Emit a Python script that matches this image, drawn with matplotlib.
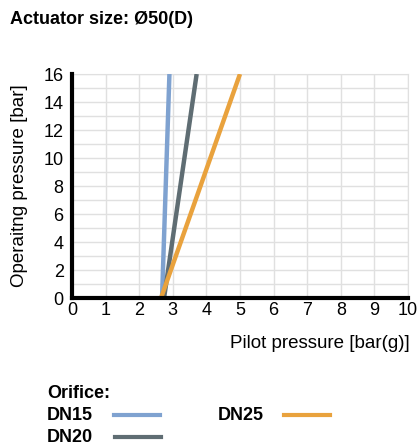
import matplotlib
matplotlib.use("Agg")
import matplotlib.pyplot as plt
from matplotlib.lines import Line2D

plt.rcParams["font.family"] = ["Liberation Sans", "DejaVu Sans"]

# data
series_names = ["DN15", "DN20", "DN25"]
pilot_dn15 = [2.68, 2.9]
pilot_dn20 = [2.74, 3.71]
pilot_dn25 = [2.65, 5.0]
operating = [0, 16]
colors = ["#7fa2d0", "#5f6d73", "#e9a23d"]

fig = plt.figure(figsize=(4.2, 4.48), dpi=100)
ax = fig.add_axes([0.1714, 0.3348, 0.8, 0.5])

for xs, c in zip([pilot_dn15, pilot_dn20, pilot_dn25], colors):
    ax.plot(xs, operating, color=c, lw=3.2, solid_capstyle="butt", zorder=3)

ax.set_xlim(0, 10)
ax.set_ylim(0, 16)
ax.set_xticks(range(0, 11))
ax.set_yticks(range(0, 17, 2))
ax.set_yticks(range(0, 17), minor=True)
ax.grid(True, which="both", color="#e0e0e0", lw=1)
ax.tick_params(which="both", length=0, labelsize=13, pad=3)
ax.tick_params(axis="y", pad=6)

for s in ["top", "right"]:
    ax.spines[s].set_color("#e0e0e0")
for s in ["left", "bottom"]:
    ax.spines[s].set_color("black")
    ax.spines[s].set_linewidth(3)
    ax.spines[s].set_zorder(4)

ax.set_ylabel("Operaitng pressure [bar]", fontsize=13.5, labelpad=11)
fig.text(410 / 420, 1 - 343 / 448, "Pilot pressure [bar(g)]", fontsize=13.5,
         ha="right", va="center")

fig.text(10 / 420, 1 - 20 / 448, "Actuator size: Ø50(D)", fontsize=13,
         fontweight="bold", ha="left", va="center")

# legend drawn by hand
fig.text(47 / 420, 1 - 393 / 448, "Orifice:", fontsize=13, fontweight="bold",
         ha="left", va="center")
leg_pos = [(47, 415, 114), (47, 437, 115), (218, 415, 284)]
for name, c, (tx, ty, lx) in zip(series_names, colors, leg_pos):
    fig.text(tx / 420, 1 - ty / 448, name, fontsize=13, fontweight="bold",
             ha="left", va="center")
    fig.add_artist(Line2D([lx / 420, (lx + 46) / 420],
                          [1 - ty / 448, 1 - ty / 448],
                          color=c, lw=3, transform=fig.transFigure))

fig.savefig("out.png", dpi=100)
